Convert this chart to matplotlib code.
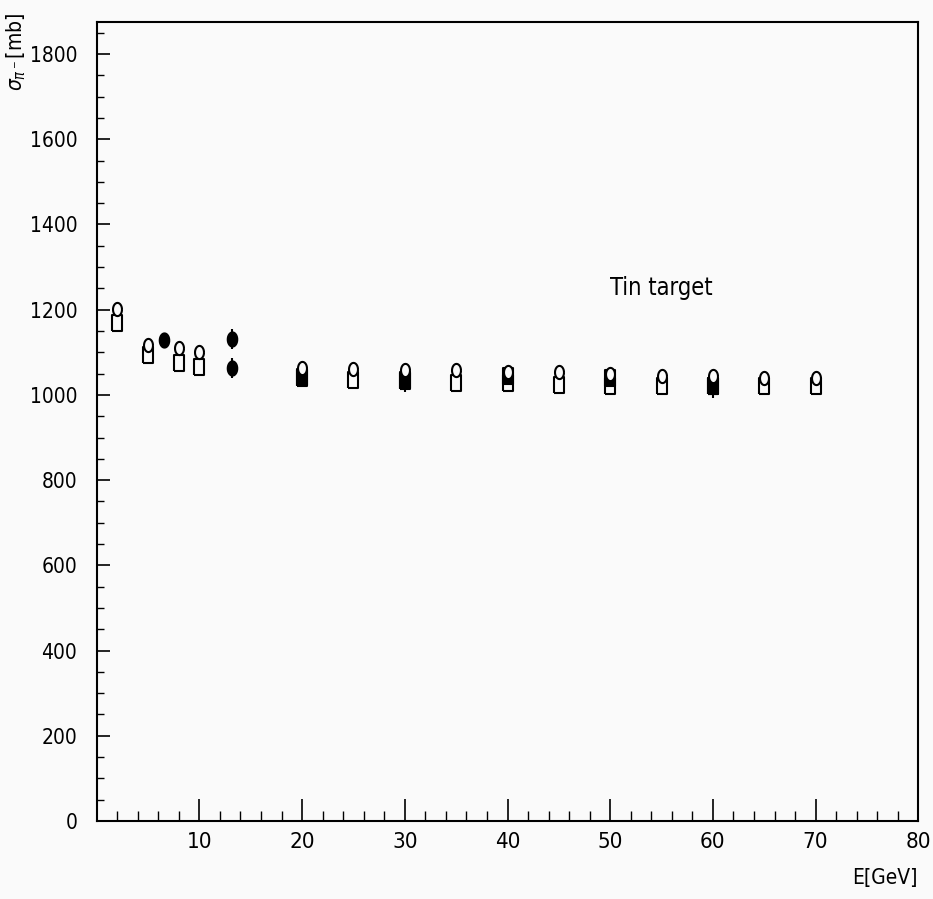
import numpy as np
import matplotlib
matplotlib.use('Agg')
import matplotlib.pyplot as plt

# pi- cross section on tin, sigma in mb vs beam energy in GeV
e_open_circ = [2, 5, 8, 10, 20, 25, 30, 35, 40, 45, 50, 55, 60, 65, 70]
s_open_circ = [1201, 1118, 1110, 1101, 1063, 1061, 1058, 1058, 1054, 1054, 1049, 1045, 1045, 1040, 1040]

e_open_sq = [2, 5, 8, 10, 20, 25, 30, 35, 40, 45, 50, 55, 60, 65, 70]
s_open_sq = [1168, 1093, 1075, 1065, 1040, 1036, 1033, 1028, 1028, 1024, 1020, 1020, 1020, 1021, 1021]

e_full_circ = [6.6, 13.2, 13.2]
s_full_circ = [1128, 1131, 1063]
err_full_circ = [5, 23, 23]

e_full_sq = [20, 30, 40, 50, 60]
s_full_sq = [1042, 1035, 1045, 1039, 1020]
err_full_sq = [10, 28, 8, 8, 27]

x_ticks = [0, 10, 20, 30, 40, 50, 60, 70, 80]
x_ticklabels = ['', '10', '20', '30', '40', '50', '60', '70', '80']
y_ticks = [0, 200, 400, 600, 800, 1000, 1200, 1400, 1600, 1800]

plt.rcParams['font.family'] = ['DejaVu Sans']
plt.rcParams['font.stretch'] = 'condensed'

# tall markers: the frame is stretched vertically
t = np.linspace(0, 2 * np.pi, 40)
oval = list(zip(0.68 * np.cos(t), np.sin(t)))
rect = [(-0.62, -1), (0.62, -1), (0.62, 1), (-0.62, 1), (-0.62, -1)]

bg = '#fafafa'
fig = plt.figure(figsize=(9.33, 8.99), dpi=100, facecolor=bg)
ax = fig.add_axes([0.1036, 0.0868, 0.8807, 0.8891], facecolor=bg)

ax.plot(e_open_sq, s_open_sq, linestyle='none', marker=rect, ms=12,
        mfc=bg, mec='black', mew=1.5, zorder=3)
ax.errorbar(e_full_sq, s_full_sq, yerr=err_full_sq, fmt='none', ecolor='black',
            elinewidth=1.5, capsize=0, zorder=4)
ax.plot(e_full_sq, s_full_sq, linestyle='none', marker=rect, ms=12,
        mfc='black', mec='black', mew=1.5, zorder=4)
ax.errorbar(e_full_circ, s_full_circ, yerr=err_full_circ, fmt='none', ecolor='black',
            elinewidth=1.5, capsize=0, zorder=4)
ax.plot(e_full_circ, s_full_circ, linestyle='none', marker=oval, ms=10.5,
        mfc='black', mec='black', mew=1.2, zorder=4)
ax.plot(e_open_circ, s_open_circ, linestyle='none', marker=oval, ms=9.5,
        mfc=bg, mec='black', mew=1.5, zorder=5)

ax.set_xlim(0, 80)
ax.set_ylim(0, 1876)
ax.set_xticks(x_ticks)
ax.set_xticklabels(x_ticklabels)
ax.set_xticks(np.arange(0, 81, 2), minor=True)
ax.set_yticks(y_ticks)
ax.set_yticks(np.arange(0, 1876, 50), minor=True)

ax.tick_params(axis='x', which='major', direction='in', length=16, width=1.2,
               labelsize=16, pad=8)
ax.tick_params(axis='x', which='minor', direction='in', length=7, width=1.0)
ax.tick_params(axis='y', which='major', direction='in', length=9.5, width=1.2,
               labelsize=15, pad=14)
ax.tick_params(axis='y', which='minor', direction='in', length=5, width=1.0)
for sp in ax.spines.values():
    sp.set_linewidth(1.5)

ax.text(50, 1251, 'Tin target', fontsize=17, ha='left', va='center')
fig.text(0.984, 0.023, 'E[GeV]', fontsize=15, ha='right', va='center')
fig.text(0.017, 0.986, r'$\sigma_{\pi^-}$[mb]', fontsize=15, rotation=90,
         ha='center', va='top')

fig.savefig('out.png', dpi=100, facecolor=bg)
